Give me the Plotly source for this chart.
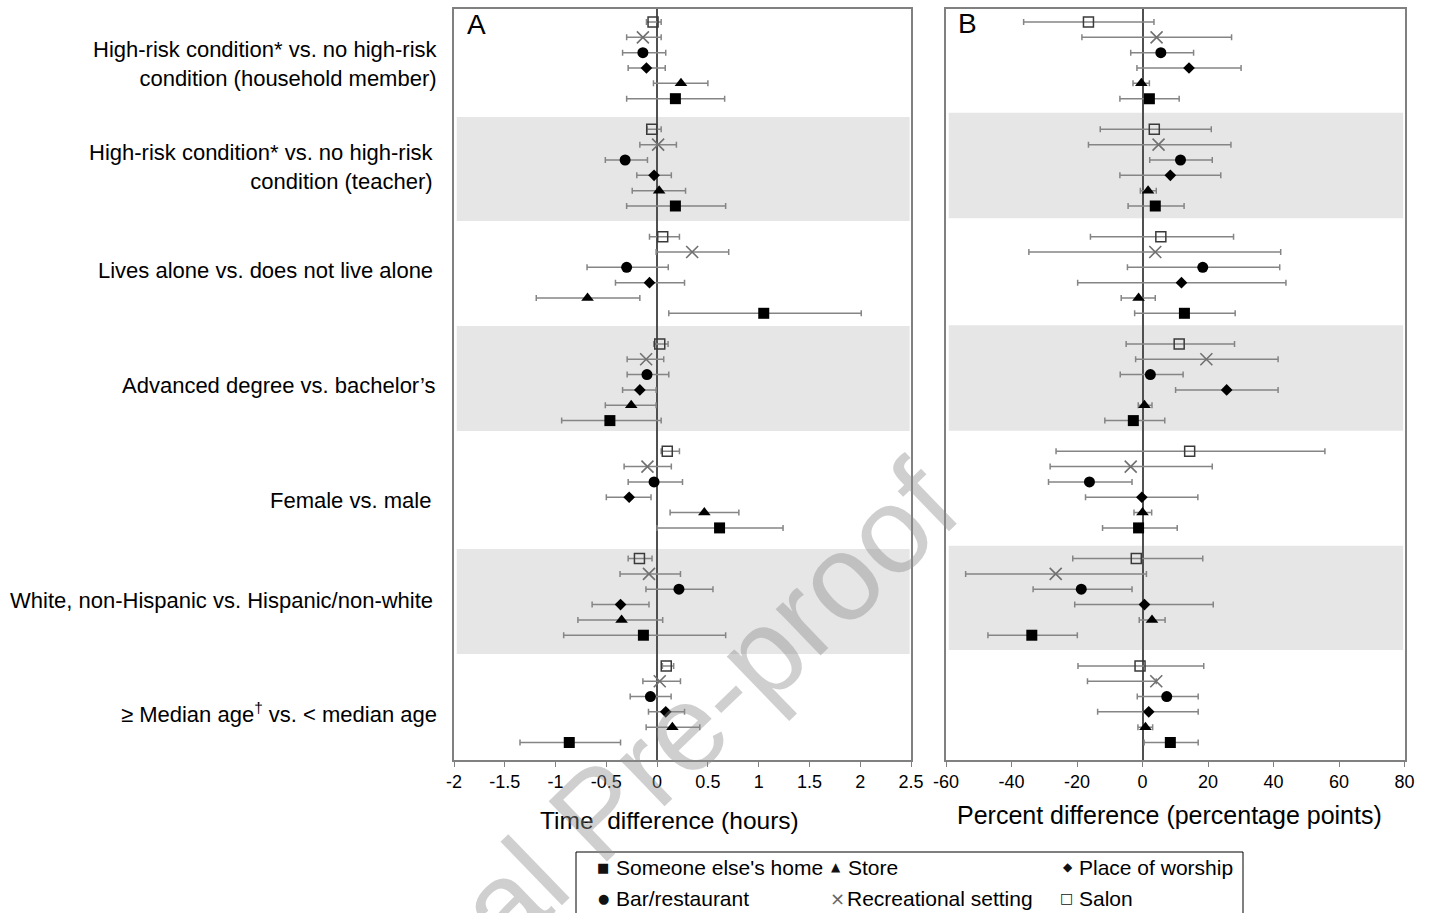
import plotly.graph_objects as go

W, H = 1432, 913

# ---------------- data ----------------
comparisons = [
    "High-risk condition* vs. no high-risk<br>condition (household member)",
    "High-risk condition* vs. no high-risk<br>condition (teacher)",
    "Lives alone vs. does not live alone",
    "Advanced degree vs. bachelor\u2019s",
    "Female vs. male",
    "White, non-Hispanic vs. Hispanic/non-white",
    "\u2265 Median age<sup>\u2020</sup> vs. < median age",
]
series_names = ["Salon", "Recreational setting", "Bar/restaurant",
                "Place of worship", "Store", "Someone else's home"]

# Panel A: time difference (hours) -> [estimate, lower, upper] per comparison
a_salon = [[-0.04, -0.105, 0.04], [-0.053, -0.10, 0.04], [0.055, -0.075, 0.22], [0.026, -0.033, 0.108],
           [0.10, 0.04, 0.22], [-0.174, -0.285, -0.05], [0.09, 0.052, 0.163]]
a_recr = [[-0.14, -0.30, 0.04], [0.01, -0.17, 0.19], [0.345, -0.01, 0.705], [-0.108, -0.295, 0.065],
          [-0.095, -0.325, 0.14], [-0.08, -0.365, 0.23], [0.026, -0.14, 0.23]]
a_bar = [[-0.14, -0.34, 0.085], [-0.315, -0.51, -0.095], [-0.30, -0.69, 0.11], [-0.10, -0.295, 0.115],
         [-0.03, -0.285, 0.25], [0.215, -0.11, 0.55], [-0.066, -0.265, 0.138]]
a_worship = [[-0.105, -0.285, 0.08], [-0.03, -0.20, 0.14], [-0.075, -0.41, 0.27], [-0.17, -0.34, -0.01],
             [-0.275, -0.50, -0.06], [-0.36, -0.64, -0.08], [0.085, -0.085, 0.27]]
a_store = [[0.235, -0.036, 0.50], [0.02, -0.245, 0.28], [-0.685, -1.19, -0.17], [-0.255, -0.51, -0.01],
           [0.465, 0.128, 0.805], [-0.35, -0.78, 0.055], [0.15, -0.108, 0.42]]
a_home = [[0.18, -0.30, 0.665], [0.18, -0.30, 0.675], [1.05, 0.115, 2.01], [-0.465, -0.94, 0.04],
          [0.615, 0.0, 1.24], [-0.135, -0.92, 0.675], [-0.865, -1.35, -0.36]]

# Panel B: percent difference (percentage points)
b_salon = [[-16.5, -36.3, 3.5], [3.6, -12.9, 21.0], [5.6, -15.9, 27.8], [11.2, -5.0, 28.1],
           [14.4, -26.4, 55.7], [-1.9, -21.3, 18.4], [-0.75, -19.7, 18.7]]
b_recr = [[4.3, -18.5, 27.2], [4.9, -16.5, 27.0], [3.9, -34.7, 42.2], [19.5, -2.1, 41.4],
          [-3.6, -28.2, 21.3], [-26.5, -54.0, 1.2], [4.2, -16.8, 4.2]]
b_bar = [[5.6, -3.6, 15.6], [11.6, 2.2, 21.3], [18.4, -4.6, 41.9], [2.4, -6.8, 12.4],
         [-16.2, -28.7, -3.2], [-18.7, -33.4, -3.2], [7.4, -1.6, 17.0]]
b_worship = [[14.2, -1.7, 30.1], [8.5, -6.9, 23.9], [11.9, -19.8, 43.8], [25.7, 10.1, 41.4],
             [-0.2, -17.4, 16.9], [0.6, -20.7, 21.6], [1.9, -13.7, 17.0]]
b_store = [[-0.35, -2.9, 2.1], [1.7, -0.65, 4.2], [-1.2, -6.5, 3.9], [0.6, -1.3, 2.9],
           [0.0, -2.6, 2.8], [2.9, -1.0, 6.9], [0.9, -1.4, 3.1]]
b_home = [[2.1, -6.9, 11.2], [3.9, -4.4, 12.7], [12.8, -2.4, 28.3], [-2.8, -11.5, 6.8],
          [-1.2, -12.2, 10.6], [-33.8, -47.2, -19.9], [8.5, 0.5, 17.0]]

a_ticks = [-2, -1.5, -1, -0.5, 0, 0.5, 1, 1.5, 2, 2.5]
a_ticktext = ["-2", "-1.5", "-1", "-0.5", "0", "0.5", "1", "1.5", "2", "2.5"]
b_ticks = [-60, -40, -20, 0, 20, 40, 60, 80]
b_ticktext = ["-60", "-40", "-20", "0", "20", "40", "60", "80"]

panel_a = [a_salon, a_recr, a_bar, a_worship, a_store, a_home]
panel_b = [b_salon, b_recr, b_bar, b_worship, b_store, b_home]

# ---------------- styling ----------------
FONT = "Liberation Sans, Arial, sans-serif"
styles = [
    dict(symbol="square-open", size=10, color="#3a3a3a", line=dict(width=1.5, color="#3a3a3a")),
    dict(symbol="x-thin", size=12, color="#707070", line=dict(width=1.6, color="#707070")),
    dict(symbol="circle", size=11, color="black"),
    dict(symbol="diamond", size=9, color="black"),
    dict(symbol="triangle-up", size=11, color="black"),
    dict(symbol="square", size=11, color="black"),
]

fig = go.Figure()

def add_panel(data, xa, ya):
    for k, (name, rows) in enumerate(zip(series_names, data)):
        xs = [r[0] for r in rows]
        lo = [r[0] - r[1] for r in rows]
        hi = [r[2] - r[0] for r in rows]
        ys = [g * 7 + k for g in range(len(rows))]
        fig.add_trace(go.Scatter(
            x=xs, y=ys, mode="markers", name=name, showlegend=False,
            xaxis=xa, yaxis=ya, marker=styles[k],
            error_x=dict(type="data", array=hi, arrayminus=lo, symmetric=False,
                         color="#858585", thickness=1.5, width=3),
        ))

add_panel(panel_a, "x", "y")
add_panel(panel_b, "x2", "y2")

yrange = [48.14, -0.85]
top = 1 - 9 / H
bot = 1 - 760 / H
axis_common = dict(showline=True, mirror=True, linecolor="#808080", linewidth=1.5,
                   showgrid=False, automargin=False)
fig.update_layout(
    width=W, height=H, autosize=False,
    margin=dict(l=0, r=0, t=0, b=0, pad=0, autoexpand=False),
    showlegend=False,
    paper_bgcolor="white", plot_bgcolor="white",
    font=dict(family=FONT, color="black"),
    xaxis=dict(domain=[454 / W, 911 / W], range=[-2, 2.5], anchor="y",
               tickvals=a_ticks, ticktext=a_ticktext, ticks="outside", ticklen=5,
               tickcolor="#808080", tickfont=dict(size=18, family=FONT),
               zeroline=True, zerolinecolor="#505050", zerolinewidth=1.5, **axis_common),
    yaxis=dict(domain=[bot, top], range=yrange, anchor="x", showticklabels=False,
               ticks="", zeroline=False, **axis_common),
    xaxis2=dict(domain=[946 / W, 1404.5 / W], range=[-60, 80], anchor="y2",
                tickvals=b_ticks, ticktext=b_ticktext, ticks="outside", ticklen=5,
                tickcolor="#808080", tickfont=dict(size=18, family=FONT),
                zeroline=True, zerolinecolor="#505050", zerolinewidth=1.5, **axis_common),
    yaxis2=dict(domain=[bot, top], range=yrange, anchor="x2", showticklabels=False,
                ticks="", zeroline=False, **axis_common),
)

# grey bands (slot units)
bands_a = [(6.2, 12.98), (19.83, 26.68), (34.38, 41.23)]
bands_b = [(5.92, 12.8), (19.78, 26.66), (34.16, 40.97)]
for (y0, y1) in bands_a:
    fig.add_shape(type="rect", xref="x domain", yref="y", x0=0.006, x1=0.997, y0=y0, y1=y1,
                  fillcolor="#e6e6e6", line=dict(width=0), layer="below")
for (y0, y1) in bands_b:
    fig.add_shape(type="rect", xref="x2 domain", yref="y2", x0=0.006, x1=0.997, y0=y0, y1=y1,
                  fillcolor="#e6e6e6", line=dict(width=0), layer="below")

def px(x, y):
    return x / W, 1 - y / H

# category labels
label_pos = [(440, 63.5), (436, 167), (435, 270), (438, 385), (433, 500), (435, 600), (439, 713)]
for text, (x, y) in zip(comparisons, label_pos):
    ax, ay = px(x, y)
    fig.add_annotation(x=ax, y=ay, xref="paper", yref="paper", text=text, showarrow=False,
                       xanchor="right", yanchor="middle", align="right",
                       font=dict(size=22, family=FONT, color="black"))

# panel letters
for t, (x, y) in [("A", (476, 24)), ("B", (967, 23))]:
    ax, ay = px(x, y)
    fig.add_annotation(x=ax, y=ay, xref="paper", yref="paper", text=t, showarrow=False,
                       xanchor="center", yanchor="middle", font=dict(size=28, family=FONT))

# axis titles
for t, size, (x, y) in [("Time  difference (hours)", 24.5, (669, 820)),
                        ("Percent difference (percentage points)", 25, (1169, 815))]:
    ax, ay = px(x, y)
    fig.add_annotation(x=ax, y=ay, xref="paper", yref="paper", text=t, showarrow=False,
                       xanchor="center", yanchor="middle", font=dict(size=size, family=FONT))

# legend box
fig.add_shape(type="rect", xref="paper", yref="paper",
              x0=576 / W, x1=1243 / W, y0=1 - 916 / H, y1=1 - 852 / H,
              line=dict(color="black", width=1), fillcolor="rgba(255,255,255,0)")
legend_items = [
    ("\u25a0", 13, "Someone else's home", 603, 867, 11),
    ("\u25b2", 12, "Store", 836, 867, 10),
    ("\u25c6", 12, "Place of worship", 1068, 867, 9),
    ("\u25cf", 13, "Bar/restaurant", 603, 898, 11),
    ("\u00d7", 18, "Recreational setting", 837, 898, 8),
    ("\u25a1", 14, "Salon", 1066, 898, 11),
]
for sym, ssize, lab, x, y, gap in legend_items:
    ax, ay = px(x, y)
    fig.add_annotation(x=ax, y=ay, xref="paper", yref="paper", text=sym, showarrow=False,
                       xanchor="center", yanchor="middle",
                       font=dict(size=ssize, family="DejaVu Sans",
                                 color="#666" if sym == "\u00d7" else "#111"))
    bx, by = px(x + gap, y)
    fig.add_annotation(x=bx, y=by, xref="paper", yref="paper", text=lab, showarrow=False,
                       xanchor="left", yanchor="middle", font=dict(size=21, family=FONT))

# watermark
wx, wy = px(598, 812)
fig.add_annotation(x=wx, y=wy, xref="paper", yref="paper", text="Journal Pre-proof",
                   showarrow=False, textangle=-44, xanchor="center", yanchor="middle",
                   font=dict(size=122, family=FONT, color="rgba(140,140,140,0.42)"))

fig.write_html("out.html")
